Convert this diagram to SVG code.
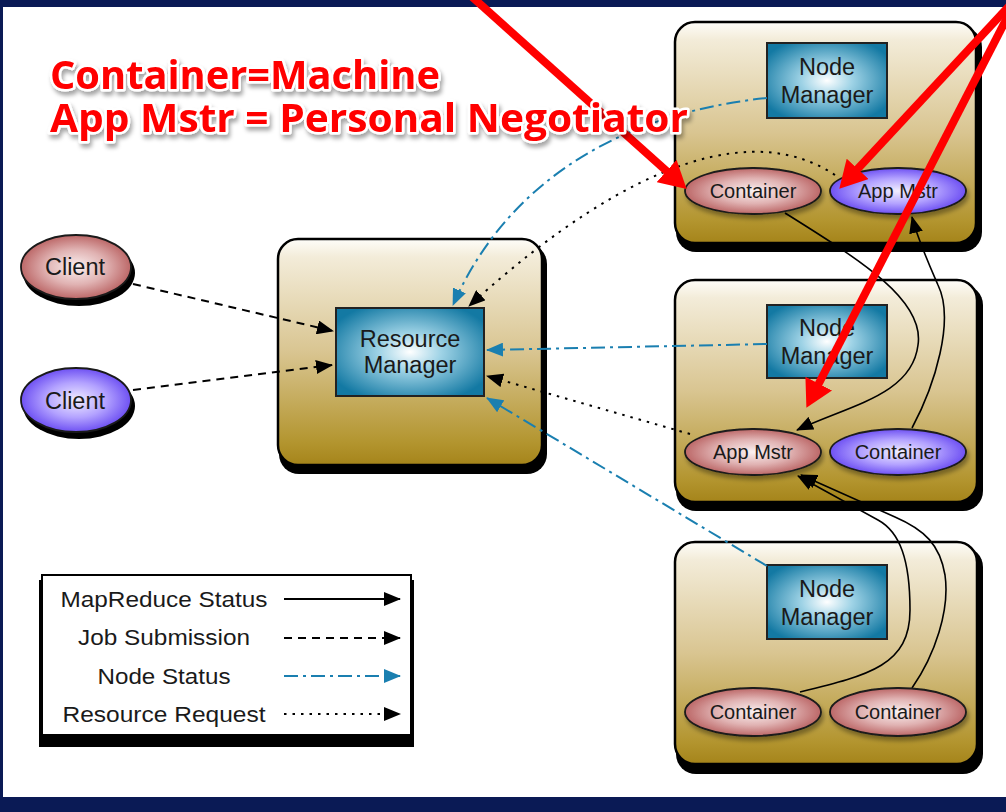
<svg xmlns="http://www.w3.org/2000/svg" width="1006" height="812" viewBox="0 0 1006 812">
<defs>
<style>
.lbl{font-family:"Liberation Sans",Arial,sans-serif;fill:#1a1a1a;text-anchor:middle}
.big{font-size:23.5px}
.sm{font-size:20px}
.leg{font-size:22.5px}
.box{stroke:#000;stroke-width:2.5}
.inner{fill:url(#gTeal);stroke:#222;stroke-width:2}
.ell{stroke:#1a1a1a;stroke-width:1.8}
.pink{fill:url(#gPink)}
.purp{fill:url(#gPurp)}
.shadow{fill:#000}
.mr{fill:none;stroke:#000;stroke-width:1.6;marker-end:url(#aBlack)}
.js{fill:none;stroke:#000;stroke-width:2;stroke-dasharray:8 6;marker-end:url(#aBlack)}
.ns{fill:none;stroke:#1a7fb0;stroke-width:2;stroke-dasharray:14 5 3 5;marker-end:url(#aBlue)}
.rr{fill:none;stroke:#000;stroke-width:2;stroke-dasharray:2.5 6;marker-end:url(#aBlack)}
.red{fill:none;stroke:#ff0000;stroke-width:8;marker-end:url(#aRed)}
.note{font-family:"Open Sans","Noto Sans","Liberation Sans",sans-serif;font-weight:700;font-size:39px;fill:#ff0000;stroke:#fff;stroke-width:5;stroke-linejoin:round;paint-order:stroke}
</style>
<linearGradient id="gTan" x1="0" y1="0" x2="0" y2="1">
<stop offset="0" stop-color="#fefdf9"/>
<stop offset="0.08" stop-color="#f3ecd9"/>
<stop offset="0.5" stop-color="#d9c591"/>
<stop offset="0.9" stop-color="#b3952f"/>
<stop offset="1" stop-color="#a5841a"/>
</linearGradient>
<radialGradient id="gTeal" cx="0.5" cy="0.5" r="0.6">
<stop offset="0" stop-color="#ffffff"/>
<stop offset="0.35" stop-color="#9fd3e6"/>
<stop offset="1" stop-color="#1379a3"/>
</radialGradient>
<radialGradient id="gPink" cx="0.5" cy="0.5" r="0.55">
<stop offset="0" stop-color="#fbf1f1"/>
<stop offset="0.5" stop-color="#e0b2b2"/>
<stop offset="1" stop-color="#b45757"/>
</radialGradient>
<radialGradient id="gPurp" cx="0.5" cy="0.5" r="0.55">
<stop offset="0" stop-color="#f1eeff"/>
<stop offset="0.5" stop-color="#b3a2ff"/>
<stop offset="1" stop-color="#5f3ff0"/>
</radialGradient>
<filter id="ds" x="-10%" y="-30%" width="120%" height="170%">
<feDropShadow dx="2" dy="4" stdDeviation="2" flood-color="#000" flood-opacity="0.35"/>
</filter>
<marker id="aBlack" markerUnits="userSpaceOnUse" markerWidth="18" markerHeight="14" refX="16" refY="7" orient="auto">
<path d="M0,0 L17,7 L0,14 z" fill="#000"/>
</marker>
<marker id="aBlue" markerUnits="userSpaceOnUse" markerWidth="18" markerHeight="14" refX="16" refY="7" orient="auto">
<path d="M0,0 L17,7 L0,14 z" fill="#1a7fb0"/>
</marker>
<marker id="aRed" markerUnits="userSpaceOnUse" markerWidth="28" markerHeight="30" refX="6" refY="15" orient="auto">
<path d="M0,0 L27,15 L0,30 z" fill="#ff0000"/>
</marker>
</defs>

<rect x="0" y="0" width="1006" height="812" fill="#ffffff"/>

<!-- Resource Manager -->
<g id="resource-manager">
<rect class="shadow" x="279" y="244" width="268" height="230" rx="20"/>
<rect class="box" x="278" y="239" width="264" height="226" rx="20" fill="url(#gTan)"/>
<rect class="inner" x="336" y="308" width="148" height="88"/>
<text class="lbl big" x="410" y="347">Resource</text>
<text class="lbl big" x="410" y="373">Manager</text>
</g>

<!-- Node 1 -->
<g id="node1">
<rect class="shadow" x="676" y="27" width="306" height="225" rx="20"/>
<rect class="box" x="675" y="22" width="301" height="221" rx="20" fill="url(#gTan)"/>
<rect class="inner" x="767" y="43" width="120" height="75"/>
<text class="lbl big" x="827" y="75">Node</text>
<text class="lbl big" x="827" y="103">Manager</text>
</g>
<!-- Node 2 -->
<g id="node2">
<rect class="shadow" x="676" y="285" width="307" height="226" rx="20"/>
<rect class="box" x="675" y="280" width="302" height="222" rx="20" fill="url(#gTan)"/>
<rect class="inner" x="767" y="305" width="120" height="73"/>
<text class="lbl big" x="827" y="336">Node</text>
<text class="lbl big" x="827" y="364">Manager</text>
</g>
<!-- Node 3 -->
<g id="node3">
<rect class="shadow" x="676" y="547" width="307" height="227" rx="20"/>
<rect class="box" x="675" y="542" width="302" height="222" rx="20" fill="url(#gTan)"/>
<rect class="inner" x="767" y="565" width="120" height="74"/>
<text class="lbl big" x="827" y="597">Node</text>
<text class="lbl big" x="827" y="625">Manager</text>
</g>

<!-- Clients -->
<g id="client1">
<ellipse class="shadow" cx="79" cy="273" rx="56" ry="33"/>
<ellipse class="ell pink" cx="76" cy="267" rx="55" ry="32"/>
<text class="lbl big" x="75" y="275">Client</text>
</g>
<g id="client2">
<ellipse class="shadow" cx="79" cy="406" rx="56" ry="33"/>
<ellipse class="ell purp" cx="76" cy="400" rx="55" ry="32"/>
<text class="lbl big" x="75" y="409">Client</text>
</g>

<!-- Connectors -->
<g id="connectors">
<path class="js" d="M133,284 L333,331"/>
<path class="js" d="M133,390 L332,365"/>
<path class="ns" d="M767,98 C 630,112 510,175 453,305"/>
<path class="rr" d="M835,175 C 760,125 640,150 469,306"/>
<path class="ns" d="M767,344 L487,350"/>
<path class="rr" d="M690,434 L487,376"/>
<path class="ns" d="M767,566 L487,398"/>
<path class="mr" d="M785,213 C 860,260 925,300 918,345 C 912,395 850,405 797,430"/>
<path class="mr" d="M912,428 C 935,385 955,320 938,285 C 928,262 918,240 912,217"/>
<path class="mr" d="M800,692 C 870,675 910,665 910,610 C 910,560 900,532 878,520 L 798,476"/>
<path class="mr" d="M912,688 C 935,655 950,610 945,575 C 940,545 925,530 895,517 L 801,475"/>
</g>

<!-- Ellipses inside nodes -->
<g id="container-n1">
<ellipse class="ell pink" cx="753" cy="191" rx="68" ry="23" filter="url(#ds)"/>
<text class="lbl sm" x="753" y="198">Container</text>
</g>
<g id="appmstr-n1">
<ellipse class="ell purp" cx="898" cy="191" rx="68" ry="23" filter="url(#ds)"/>
<text class="lbl sm" x="898" y="198">App Mstr</text>
</g>
<g id="appmstr-n2">
<ellipse class="ell pink" cx="753" cy="452" rx="68" ry="23" filter="url(#ds)"/>
<text class="lbl sm" x="753" y="459">App Mstr</text>
</g>
<g id="container-n2">
<ellipse class="ell purp" cx="898" cy="452" rx="68" ry="23" filter="url(#ds)"/>
<text class="lbl sm" x="898" y="459">Container</text>
</g>
<g id="container-n3a">
<ellipse class="ell pink" cx="753" cy="712" rx="68" ry="24" filter="url(#ds)"/>
<text class="lbl sm" x="753" y="719">Container</text>
</g>
<g id="container-n3b">
<ellipse class="ell pink" cx="898" cy="712" rx="68" ry="24" filter="url(#ds)"/>
<text class="lbl sm" x="898" y="719">Container</text>
</g>

<!-- Legend -->
<g id="legend">
<rect class="shadow" x="39" y="580" width="375" height="167"/>
<rect x="42" y="575" width="369" height="160" fill="#fff" stroke="#000" stroke-width="2"/>
<text class="lbl leg" x="164" y="607" textLength="207" lengthAdjust="spacingAndGlyphs">MapReduce Status</text>
<text class="lbl leg" x="164" y="645" textLength="172" lengthAdjust="spacingAndGlyphs">Job Submission</text>
<text class="lbl leg" x="164" y="684" textLength="133" lengthAdjust="spacingAndGlyphs">Node Status</text>
<text class="lbl leg" x="164" y="722" textLength="203" lengthAdjust="spacingAndGlyphs">Resource Request</text>
<path class="mr" style="stroke-width:2" d="M284,599 L400,599"/>
<path class="js" d="M284,638 L400,638"/>
<path class="ns" d="M284,676 L400,676"/>
<path class="rr" d="M284,714 L400,714"/>
</g>

<!-- Frame -->
<rect x="0" y="0" width="1006" height="7" fill="#0a1a55"/>
<rect x="0" y="0" width="3" height="812" fill="#0a1a55"/>
<rect x="0" y="797" width="1006" height="15" fill="#0a1a55"/>

<!-- Red annotation arrows -->
<g id="annotation-arrows">
<path class="red" d="M470,-5 L671,175"/>
<path class="red" d="M1010,5 L853.6,173.3"/>
<path class="red" d="M1010,12 L816,389"/>
</g>

<!-- Annotation text -->
<g id="annotation-text" filter="url(#ds)">
<text class="note"><tspan x="50" y="89" textLength="390" lengthAdjust="spacingAndGlyphs">Container=Machine</tspan><tspan x="50" y="132" textLength="638" lengthAdjust="spacingAndGlyphs">App Mstr = Personal Negotiator</tspan></text>
</g>
</svg>
